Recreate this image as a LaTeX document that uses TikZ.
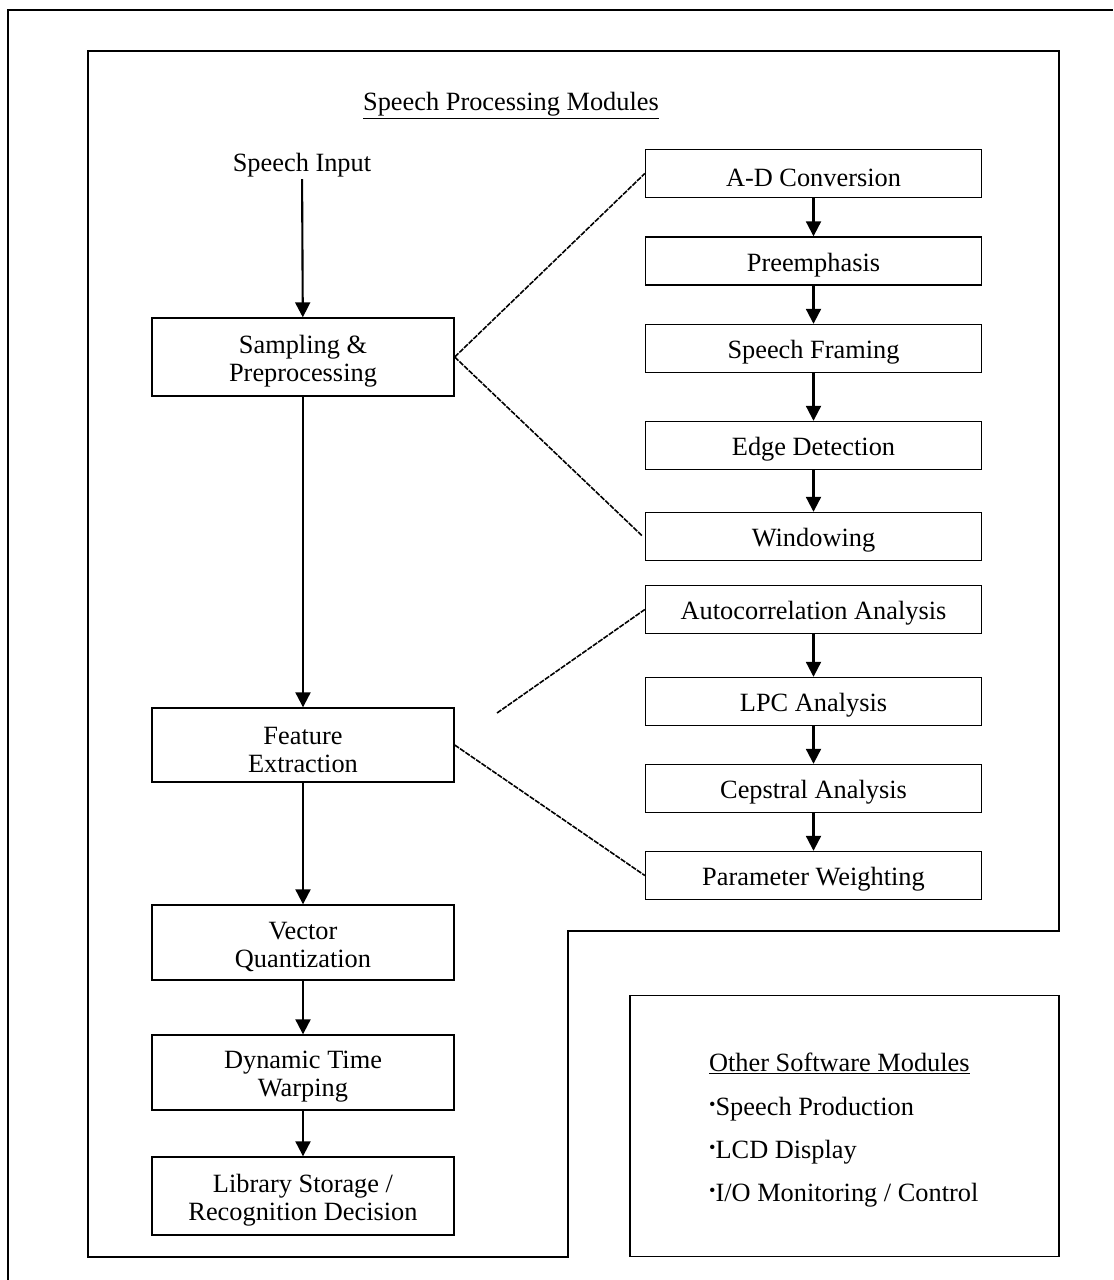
\documentclass[tikz,border=0pt]{standalone}
\usepackage{fontspec}
\setmainfont{Liberation Serif}
\usetikzlibrary{arrows.meta}
\newcommand\boxfont{\fontsize{15}{16}\selectfont}
\newcommand\smallbullet{\raisebox{0.17em}{\scalebox{0.7}{•}}}
\newcommand\up{\rule{0pt}{15pt}}
\begin{document}
\begin{tikzpicture}[x=0.02cm,y=-0.02cm,
  box/.style={draw, line width=0.8pt, align=center, inner sep=0pt, font=\boxfont},
  lbox/.style={box, minimum width=6.04cm},
  rbox/.style={box, minimum width=6.72cm, minimum height=0.96cm},
  txt/.style={font=\boxfont, inner sep=1pt},
  flow/.style={line width=1.2pt, -{Triangle[width=8.5pt,length=8.5pt]}},
  link/.style={line width=0.9pt, dash pattern=on 3pt off 0.7pt},
  frame/.style={line width=0.9pt}]
\useasboundingbox (0,0) rectangle (1113,1280);
% outer frame (right and bottom sides lie outside the picture)
\draw[frame] (8,1280) -- (8,10) -- (1113,10);
% L-shaped module region
\draw[frame] (88,51) -- (1059,51) -- (1059,931) -- (568,931) -- (568,1257) -- (88,1257) -- cycle;
% other modules box
\node[draw, frame, minimum width=8.58cm, minimum height=5.22cm, inner sep=0pt] (otherbox) at (844.5,1126) {};

\node[txt] (title) at (511,106) {\underline{Speech Processing Modules}};
\node[txt] (in) at (302,165) {Speech Input};

% left column
\node[lbox, minimum height=1.56cm] (samp) at (303,357) {\up Sampling \&\\Preprocessing};
\node[lbox, minimum height=1.48cm] (feat) at (303,745) {\up Feature\\Extraction};
\node[lbox, minimum height=1.5cm] (vq) at (303,942.5) {\up Vector\\Quantization};
\node[lbox, minimum height=1.5cm] (dtw) at (303,1072.5) {\up Dynamic Time\\Warping};
\node[lbox, minimum height=1.56cm] (lib) at (303,1196) {\up Library Storage /\\Recognition Decision};

% right column
\node[rbox] (ad) at (813.5,173.5) {\up A-D Conversion};
\node[rbox] (pre) at (813.5,261) {\up Preemphasis};
\node[rbox] (sf) at (813.5,348.5) {\up Speech Framing};
\node[rbox] (ed) at (813.5,445.5) {\up Edge Detection};
\node[rbox] (win) at (813.5,536.5) {\up Windowing};
\node[rbox] (auto) at (813.5,609.5) {\up Autocorrelation Analysis};
\node[rbox] (lpc) at (813.5,701.5) {\up LPC Analysis};
\node[rbox] (cep) at (813.5,788.5) {\up Cepstral Analysis};
\node[rbox] (pw) at (813.5,875.5) {\up Parameter Weighting};

% flow arrows
\draw[flow] (in) -- (samp);
\draw[flow] (samp) -- (feat);
\draw[flow] (feat) -- (vq);
\draw[flow] (vq) -- (dtw);
\draw[flow] (dtw) -- (lib);
\draw[flow] (ad) -- (pre);
\draw[flow] (pre) -- (sf);
\draw[flow] (sf) -- (ed);
\draw[flow] (ed) -- (win);
\draw[flow] (auto) -- (lpc);
\draw[flow] (lpc) -- (cep);
\draw[flow] (cep) -- (pw);

% expansion lines
\coordinate (fe) at (497,713);
\draw[link] (samp.east) -- (ad.west);
\draw[link] (samp.east) -- ([xshift=-0.06cm,yshift=0.02cm]win.west);
\draw[link] (fe) -- (auto.west);
\draw[link] (feat.east) -- (pw.west);

% other software modules
\node[txt, anchor=base west] (ot) at (707,1071) {\underline{Other Software Modules}};
\node[txt, anchor=base west] (b1) at (707,1115) {\smallbullet Speech Production};
\node[txt, anchor=base west] (b2) at (707,1158) {\smallbullet LCD Display};
\node[txt, anchor=base west] (b3) at (707,1201) {\smallbullet I/O Monitoring / Control};
\end{tikzpicture}
\end{document}
